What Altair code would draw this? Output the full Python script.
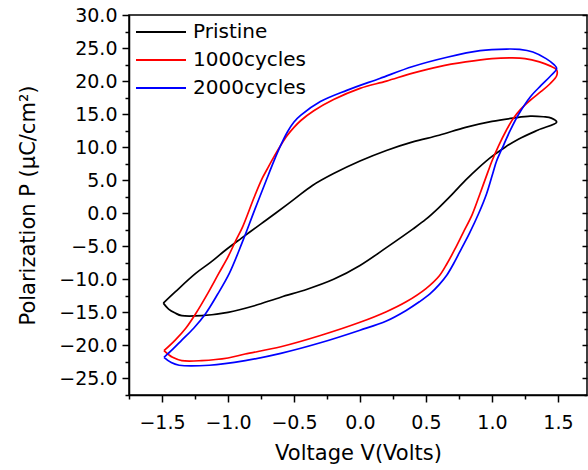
import altair as alt
import pandas as pd

series_names = ["Pristine", "1000cycles", "2000cycles"]
series_colors = ["#000000", "#ff0000", "#0000ff"]

# Each loop: lower branch (V rising) from left tip to right tip, then upper branch back.
pristine_v = [-1.49, -1.45, -1.40, -1.35, -1.20, -1.00, -0.80, -0.60, -0.40, -0.20, 0.00, 0.20, 0.40, 0.50, 0.60,
              0.70, 0.80, 0.90, 1.00, 1.10, 1.20, 1.35, 1.49,
              1.45, 1.39, 1.29, 1.16, 1.00, 0.80, 0.60, 0.40, 0.20, 0.00, -0.20, -0.36, -0.50, -0.64, -0.75,
              -0.90, -1.02, -1.13, -1.245, -1.40, -1.49]
pristine_p = [-13.6, -14.5, -15.1, -15.5, -15.5, -15.0, -14.0, -12.7, -11.5, -10.0, -7.9, -5.2, -2.4, -0.9, 0.9,
              2.9, 5.0, 6.9, 8.6, 10.0, 11.2, 12.6, 13.8,
              14.4, 14.6, 14.7, 14.4, 13.9, 13.0, 11.8, 10.8, 9.5, 7.9, 6.0, 4.2, 2.1, 0.0, -1.6,
              -3.8, -5.6, -7.4, -9.1, -11.9, -13.6]

c1000_v = [-1.485, -1.45, -1.42, -1.35, -1.20, -1.00, -0.87, -0.60, -0.30, 0.00, 0.20, 0.35, 0.50, 0.60, 0.66,
           0.72, 0.78, 0.85, 0.91, 0.97, 1.00, 1.05, 1.11, 1.16, 1.22, 1.29, 1.37, 1.44, 1.49,
           1.49, 1.44, 1.36, 1.25, 1.15, 1.00, 0.80, 0.60, 0.40, 0.20, 0.00, -0.20, -0.35, -0.45, -0.50,
           -0.55, -0.60, -0.65, -0.70, -0.74, -0.80, -0.89, -0.94, -1.00, -1.07, -1.15, -1.245, -1.32,
           -1.40, -1.485]
c1000_p = [-20.8, -21.4, -21.8, -22.3, -22.3, -21.9, -21.3, -20.2, -18.5, -16.5, -14.9, -13.4, -11.4, -9.5, -7.6,
           -5.4, -3.0, -0.2, 3.0, 6.3, 7.9, 10.2, 12.6, 14.3, 15.8, 17.1, 18.4, 19.6, 20.8,
           21.7, 22.3, 22.9, 23.4, 23.5, 23.4, 22.9, 22.2, 21.2, 20.0, 18.9, 17.2, 15.5, 14.0, 13.0,
           11.8, 10.3, 8.6, 6.8, 5.3, 2.5, -2.1, -4.1, -6.6, -9.1, -12.0, -15.2, -17.4,
           -19.2, -20.8]

c2000_v = [-1.485, -1.43, -1.37, -1.14, -0.87, -0.60, -0.30, 0.00, 0.20, 0.35, 0.45, 0.53, 0.60, 0.66, 0.71,
           0.77, 0.83, 0.90, 0.96, 1.01, 1.035, 1.09, 1.14, 1.20, 1.29, 1.37, 1.44, 1.49,
           1.47, 1.41, 1.31, 1.21, 1.11, 0.91, 0.66, 0.40, 0.15, -0.10, -0.30, -0.45, -0.50, -0.55, -0.60,
           -0.65, -0.71, -0.80, -0.89, -0.99, -1.08, -1.17, -1.26, -1.35, -1.42, -1.485]
c2000_p = [-21.8, -22.6, -23.0, -23.0, -22.3, -21.2, -19.6, -17.7, -16.3, -14.7, -13.4, -12.2, -10.8, -9.3, -7.6,
           -5.3, -3.0, 0.0, 3.0, 6.3, 7.9, 10.4, 12.6, 14.9, 17.6, 19.3, 20.7, 21.9,
           22.5, 23.4, 24.4, 24.8, 24.85, 24.6, 23.6, 22.2, 20.4, 18.6, 16.9, 14.8, 13.8, 12.3, 10.3,
           8.0, 5.0, 0.4, -4.3, -9.1, -12.3, -15.2, -17.4, -19.2, -20.6, -21.8]

x_major = [-1.5, -1.0, -0.5, 0.0, 0.5, 1.0, 1.5]
x_minor = [-1.75, -1.25, -0.75, -0.25, 0.25, 0.75, 1.25]
y_major = [-25, -20, -15, -10, -5, 0, 5, 10, 15, 20, 25, 30]
y_minor = [-27.5, -22.5, -17.5, -12.5, -7.5, -2.5, 2.5, 7.5, 12.5, 17.5, 22.5, 27.5]

frames = []
for name, vs, ps in [(series_names[0], pristine_v, pristine_p),
                     (series_names[1], c1000_v, c1000_p),
                     (series_names[2], c2000_v, c2000_p)]:
    frames.append(pd.DataFrame({"V": vs, "P": ps, "series": name, "idx": list(range(len(vs)))}))
df = pd.concat(frames, ignore_index=True)

W, H = 458, 380
xs = alt.Scale(domain=[-1.75, 1.72], nice=False, zero=False)
ys = alt.Scale(domain=[-27.5, 30], nice=False, zero=False)

color = alt.Color(
    "series:N",
    scale=alt.Scale(domain=series_names, range=series_colors),
    legend=alt.Legend(title=None, orient="none", legendX=22, legendY=7,
                      symbolType="M-5,0H5", symbolSize=100, symbolStrokeWidth=2,
                      labelOffset=22, labelFontSize=20, labelFont="DejaVu Sans",
                      labelColor="black", rowPadding=8, padding=0),
)

lines = alt.Chart(df).mark_line(strokeWidth=1.7, clip=True, interpolate="catmull-rom").encode(
    x=alt.X("V:Q", scale=xs, axis=alt.Axis(orient="bottom", values=x_major, format=".1f",
                                           title="Voltage V(Volts)", tickSize=7, labelPadding=11,
                                           titlePadding=10)),
    y=alt.Y("P:Q", scale=ys, axis=alt.Axis(orient="left", values=y_major, format=".1f",
                                           title="Polarization P (μC/cm²)", tickSize=7,
                                           labelPadding=5, titlePadding=20)),
    color=color,
    order="idx:Q",
    detail="series:N",
)

minor = alt.Chart(df).mark_line(opacity=0).encode(
    x=alt.X("V:Q", scale=xs, axis=alt.Axis(orient="bottom", values=x_minor, labels=False,
                                           tickSize=4, domain=False, title=None)),
    y=alt.Y("P:Q", scale=ys, axis=alt.Axis(orient="left", values=y_minor, labels=False,
                                           tickSize=4, domain=False, title=None)),
)

right_major = alt.Chart(df).mark_line(opacity=0).encode(
    x=alt.X("V:Q", scale=xs, axis=None),
    y=alt.Y("P:Q", scale=ys, axis=alt.Axis(orient="left", offset=-W, values=y_major, labels=False,
                                           tickSize=5, domain=False, title=None)),
)

right_minor = alt.Chart(df).mark_line(opacity=0).encode(
    x=alt.X("V:Q", scale=xs, axis=None),
    y=alt.Y("P:Q", scale=ys, axis=alt.Axis(orient="left", offset=-W, values=y_minor, labels=False,
                                           tickSize=3, domain=False, title=None)),
)

chart = alt.layer(lines, minor, right_major, right_minor).resolve_axis(
    x="independent", y="independent"
).properties(
    width=W, height=H,
    autosize=alt.AutoSizeParams(type="none"),
    padding={"left": 129, "top": 15, "right": 1, "bottom": 75},
).configure_view(
    stroke="black", strokeWidth=1.5
).configure_axis(
    labelFont="DejaVu Sans", titleFont="DejaVu Sans", labelFontSize=19, titleFontSize=21,
    titleFontWeight="normal", tickColor="black", domainColor="black", labelColor="black",
    titleColor="black", grid=False, tickWidth=1.5, domainWidth=1.5,
)

chart.save("out.html", embed_options={"renderer": "svg", "actions": False})
